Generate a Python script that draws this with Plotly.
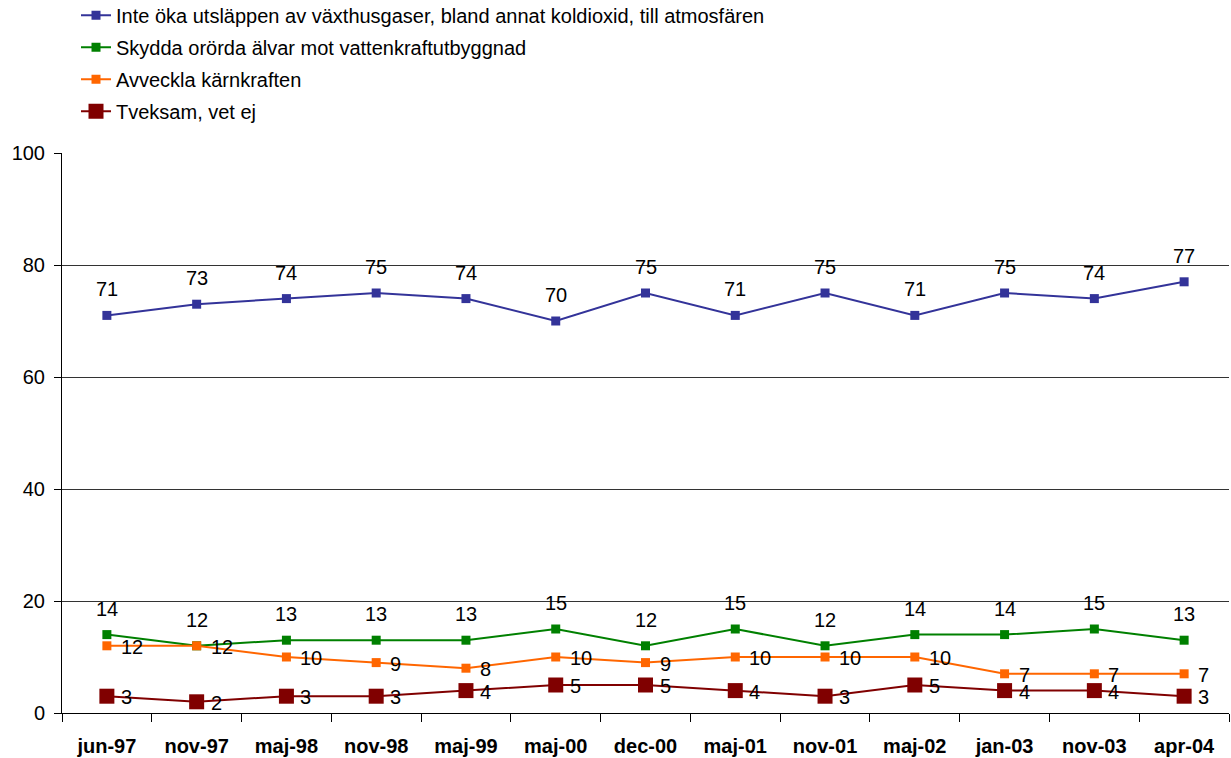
import plotly.graph_objects as go

categories = ["jun-97", "nov-97", "maj-98", "nov-98", "maj-99", "maj-00", "dec-00",
              "maj-01", "nov-01", "maj-02", "jan-03", "nov-03", "apr-04"]
klimat = [71, 73, 74, 75, 74, 70, 75, 71, 75, 71, 75, 74, 77]
alvar = [14, 12, 13, 13, 13, 15, 12, 15, 12, 14, 14, 15, 13]
karnkraft = [12, 12, 10, 9, 8, 10, 9, 10, 10, 10, 7, 7, 7]
tveksam = [3, 2, 3, 3, 4, 5, 5, 4, 3, 5, 4, 4, 3]
y_ticks = [0, 20, 40, 60, 80, 100]

names = ["Inte öka utsläppen av växthusgaser, bland annat koldioxid, till atmosfären",
         "Skydda orörda älvar mot vattenkraftutbyggnad",
         "Avveckla kärnkraften",
         "Tveksam, vet ej"]
series = [klimat, alvar, karnkraft, tveksam]
colors = ["#333399", "#008000", "#FF6600", "#800000"]
msizes = [9, 9, 9, 15]
label_pos = ["top", "top", "right", "right"]

FONT = "Liberation Sans, Arial, sans-serif"
fig = go.Figure()
annotations = []
for i, (nm, vals, col, ms, lp) in enumerate(zip(names, series, colors, msizes, label_pos)):
    fig.add_trace(go.Scatter(
        x=categories, y=vals, name=nm, mode="lines+markers",
        line=dict(color=col, width=2),
        marker=dict(symbol="square", size=ms, color=col),
        legendgroup=str(i),
    ))
    for c, v in zip(categories, vals):
        if lp == "top":
            annotations.append(dict(x=c, y=v, text=str(v), showarrow=False,
                                    xanchor="center", yanchor="middle", yshift=26,
                                    font=dict(size=20, color="#000", family=FONT)))
        else:
            annotations.append(dict(x=c, y=v, text=str(v), showarrow=False,
                                    xanchor="left", yanchor="middle", xshift=12, yshift=-1,
                                    font=dict(size=20, color="#000", family=FONT)))

fig.update_layout(
    width=1231, height=758,
    margin=dict(l=62, r=2, t=153, b=45, autoexpand=False),
    paper_bgcolor="white", plot_bgcolor="white",
    font=dict(family=FONT, size=20, color="#000"),
    showlegend=True,
    legend=dict(x=0.012, y=1.281, xanchor="left", yanchor="top",
                traceorder="grouped", tracegroupgap=3,
                font=dict(size=20, family=FONT, color="#000"),
                bgcolor="rgba(0,0,0,0)"),
    annotations=annotations,
    xaxis=dict(type="category", range=[-0.5, 12.5], tickson="boundaries",
               ticks="outside", ticklen=8, tickcolor="#000",
               showline=True, linecolor="#000", linewidth=1,
               showgrid=False, tickfont=dict(size=20, family=FONT, color="#000", weight="bold"),
               ticklabelstandoff=15),
    yaxis=dict(range=[0, 100], tickvals=y_ticks, ticks="outside", ticklen=7, tickcolor="#000",
               showline=True, linecolor="#000", linewidth=1,
               showgrid=True, gridcolor="#333", gridwidth=1, zeroline=False,
               ticklabelstandoff=5,
               tickfont=dict(size=20, family=FONT, color="#000")),
)
fig.write_html("out.html", config={"displayModeBar": False},
               post_script="document.body.style.margin='0';document.body.style.overflow='hidden';")
